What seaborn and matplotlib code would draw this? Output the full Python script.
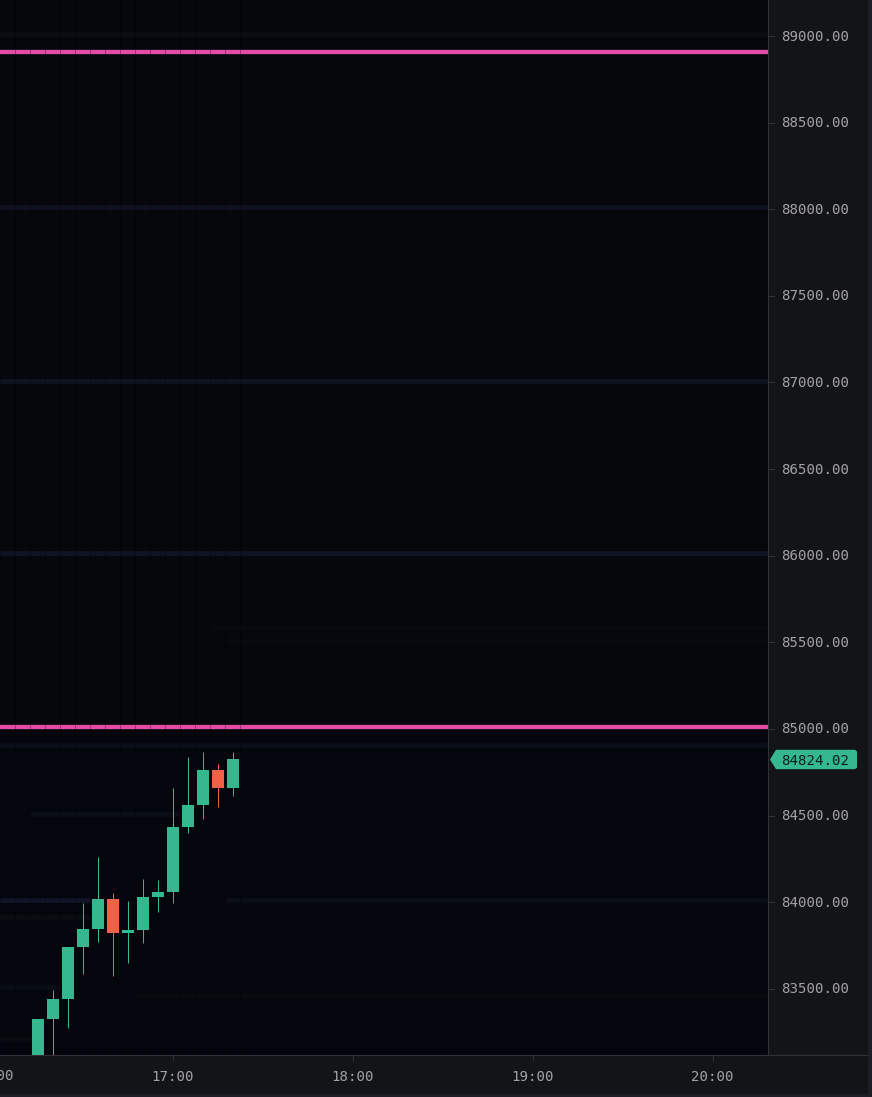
import numpy as np
import pandas as pd
import matplotlib
matplotlib.use("Agg")
import matplotlib.pyplot as plt
import matplotlib.transforms as mtrans
from matplotlib.patches import Polygon
import seaborn as sns

# candles, minutes from midnight (5 minute bars, 16:15 to 17:20)
minutes = [975, 980, 985, 990, 995, 1000, 1005, 1010, 1015, 1020, 1025, 1030, 1035, 1040]
opens = [83080, 83328, 83443, 83743, 83847, 84020, 83824, 83841, 84032, 84061, 84436, 84563, 84765, 84661]
highs = [83328, 83495, 83743, 83997, 84261, 84053, 84005, 84134, 84130, 84657, 84838, 84865, 84798, 84869]
lows = [83000, 83050, 83274, 83588, 83768, 83572, 83651, 83765, 83942, 83993, 84398, 84482, 84548, 84615]
closes = [83328, 83443, 83743, 83847, 84020, 83824, 83841, 84032, 84061, 84436, 84563, 84765, 84661, 84824.02]

y_ticks = [83500, 84000, 84500, 85000, 85500, 86000, 86500, 87000, 87500, 88000, 88500, 89000]
x_ticks = [1020, 1080, 1140, 1200]
x_labels = ["17:00", "18:00", "19:00", "20:00"]

# horizontal alert levels
level_prices = [88910, 85010]

# faint resting-liquidity bands: price, from minute, to minute, colour
band_prices = [89012, 88015, 87010, 86015, 85590, 85515, 84910, 84510, 84015, 84015, 83917, 83510, 83460, 83210]
band_start = [962.5, 962.5, 962.5, 962.5, 1032.5, 1037.5, 962.5, 972.5, 962.5, 1037.5, 962.5, 962.5, 1007.5, 962.5]
band_end = [1219, 1219, 1219, 1219, 1219, 1219, 1219, 1022.5, 992.5, 1219, 992.5, 982.5, 1219, 973.5]
band_colors = ["#090d13", "#0e1220", "#0e1320", "#0e1424", "#070a0d", "#070a0d", "#090d17", "#090d14",
               "#0f1426", "#0a0e15", "#080c11", "#090d14", "#070b0e", "#080c11"]

GREEN = "#36b88e"
RED = "#f26145"
PINK = "#e34ba6"
PANEL = "#131418"
STRIP = "#1c1e26"
AXIS = "#2f3135"
TEXT = "#a2a2a2"

sns.set_theme(style="dark", rc={"axes.facecolor": "#05070c", "figure.facecolor": PANEL})
plt.rcParams['font.family'] = ['DejaVu Sans Mono']

W, H = 872, 1097
fig = plt.figure(figsize=(W / 100, H / 100), dpi=100)
ax = fig.add_axes([0, (H - 1055) / H, 768 / W, 1055 / H])

df = pd.DataFrame({"minute": minutes, "open": opens, "high": highs, "low": lows, "close": closes})
df["base"] = df[["open", "close"]].min(axis=1)
df["size"] = (df["close"] - df["open"]).abs()
df["color"] = np.where(df["close"] >= df["open"], GREEN, RED)

# darker lower part of the pane
ax.axhspan(83118, 84950, color="#03060d", lw=0, zorder=0)

for p, a, b, c in zip(band_prices, band_start, band_end, band_colors):
    ax.hlines(p, a, b, color=c, lw=3.4, zorder=1)

ax.hlines(level_prices, 962.5, 1219, color=PINK, lw=3.1, zorder=2)

# heatmap column edges, they run over the levels as well
col_edges = np.arange(967.5, 1043, 5)
ax.vlines(col_edges, 83118, 89208, color="#000000", alpha=0.3, lw=0.72, zorder=3)

wicks = ax.vlines(df["minute"], df["low"], df["high"], colors=df["color"], lw=0.72, zorder=4)
wicks.set_snap(True)
sns.barplot(data=df, x="minute", y="size", bottom=df["base"].values, native_scale=True,
            width=0.8, saturation=1, errorbar=None, color=GREEN, ax=ax, zorder=5, linewidth=0)
for patch, c in zip(ax.patches[-len(df):], df["color"]):
    patch.set_facecolor(c)

ax.set_xlim(962.5, 1218.5)
ax.set_ylim(83118.3, 89207.8)
ax.set_xlabel("")
ax.set_ylabel("")
ax.grid(False)

ax.yaxis.tick_right()
ax.set_yticks(y_ticks)
ax.set_yticklabels([f"{v:.2f}" for v in y_ticks])
ax.set_xticks(x_ticks)
ax.set_xticklabels(x_labels)
ax.tick_params(axis="y", length=5, width=0.8, color=AXIS, labelcolor=TEXT, labelsize=10.2, pad=4.5, right=True, left=False)
ax.tick_params(axis="x", length=4.5, width=0.8, color=AXIS, labelcolor=TEXT, labelsize=10.2, pad=6.5, bottom=True)

# labels sit one pixel higher in the original
up_one = mtrans.ScaledTranslation(0, 1 / 100, fig.dpi_scale_trans)
for lab in ax.get_yticklabels():
    lab.set_transform(lab.get_transform() + up_one)

for side in ["top", "left"]:
    ax.spines[side].set_visible(False)
for side in ["right", "bottom"]:
    ax.spines[side].set_visible(True)
    ax.spines[side].set_color(AXIS)
    ax.spines[side].set_linewidth(0.8)

# the 16:00 label runs off the left edge
ax.annotate("16:00", xy=(960, 0), xycoords=ax.get_xaxis_transform(), xytext=(0, -10.2),
            textcoords="offset points", ha="center", va="top", color=TEXT, fontsize=10.2, annotation_clip=False)

# bottom line of the pane carries on to the right
fig.add_artist(plt.Line2D([768 / W, 868 / W], [(H - 1055) / H] * 2, color=AXIS, lw=0.8))

# outer strips
fig.add_artist(plt.Rectangle((868 / W, 0), 4 / W, 1, color=STRIP, lw=0))
fig.add_artist(plt.Rectangle((0, 0), 1, 3.5 / H, color=STRIP, lw=0))

# last price tag
last = df["close"].iloc[-1]
tag_tr = mtrans.blended_transform_factory(mtrans.IdentityTransform(), ax.transData)
u = 1 / 0.17325
tag = [(770, last), (776, last + 9.7 * u), (855, last + 9.7 * u), (857, last + 8 * u),
       (857, last - 8 * u), (855, last - 9.7 * u), (776, last - 9.7 * u)]
ax.add_patch(Polygon(tag, closed=True, transform=tag_tr, facecolor=GREEN, edgecolor="none", clip_on=False, zorder=6))
ax.text(781, last, f"{last:.2f}", transform=tag_tr, color="#0c1f1a", fontsize=10.2,
        ha="left", va="center_baseline", zorder=7, clip_on=False)

fig.savefig("out.png", dpi=100, facecolor=PANEL)
